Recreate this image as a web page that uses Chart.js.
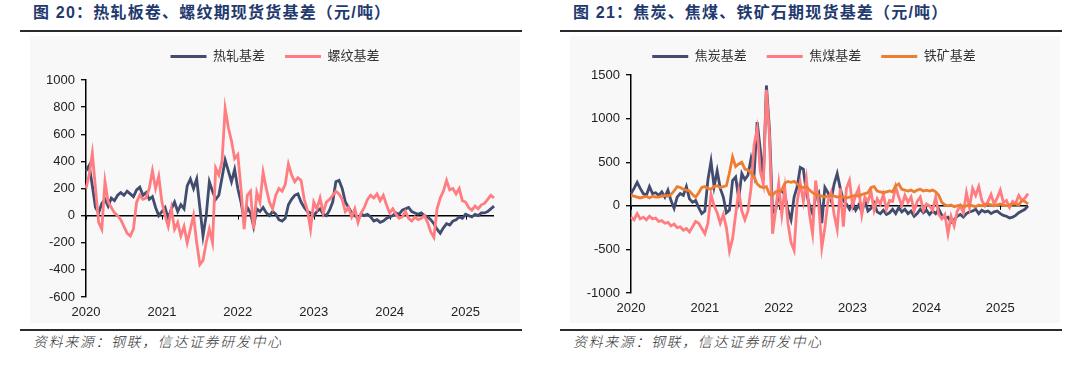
<!DOCTYPE html>
<html>
<head>
<meta charset="utf-8">
<script src="https://cdn.jsdelivr.net/npm/chart.js@4.4.1/dist/chart.umd.min.js"></script>
<style>
  body { margin: 0; width: 1080px; height: 374px; background: #fff; position: relative; overflow: hidden; font-family: 'Liberation Sans', 'Noto Sans CJK SC', sans-serif; }
  .title { position: absolute; top: 3px; line-height: 20px; font-size: 16px; font-weight: bold; color: #1f3a6e; letter-spacing: 1.2px; white-space: nowrap; }
  .rule { position: absolute; height: 2px; background: #2b2b2b; }
  .panel { position: absolute; top: 36px; width: 490px; height: 287px; background: #f8f8f8; }
  .src { position: absolute; top: 332px; line-height: 18px; font-size: 14px; font-style: italic; color: #333; font-family: 'Noto Sans CJK SC', sans-serif; font-weight: 300; letter-spacing: 1.6px; white-space: nowrap; }
  canvas { position: absolute; top: 30px; }
</style>
</head>
<body>
<div class="title" style="left:33px">图 20：热轧板卷、螺纹期现货货基差（元/吨）</div>
<div class="title" style="left:573px">图 21：焦炭、焦煤、铁矿石期现货基差（元/吨）</div>
<div class="rule" style="left:20px; width:502px; top:30px"></div>
<div class="rule" style="left:560px; width:502px; top:30px"></div>
<div class="panel" style="left:30px"></div>
<div class="panel" style="left:570px"></div>
<div class="rule" style="left:20px; width:502px; top:329px"></div>
<div class="rule" style="left:560px; width:502px; top:329px"></div>
<div class="src" style="left:33px">资料来源：钢联，信达证券研发中心</div>
<div class="src" style="left:573px">资料来源：钢联，信达证券研发中心</div>
<canvas id="left" width="500" height="295" style="left:20px"></canvas>
<canvas id="right" width="500" height="295" style="left:560px"></canvas>
<script>
// half-month periods, 2020-01 to 2025-05
const periods = [];
for (let y = 2020; y <= 2025; y++) {
  for (let m = 1; m <= 12; m++) {
    if (y === 2025 && m > 5) break;
    const mm = String(m).padStart(2, '0');
    periods.push(y + '-' + mm + '-1', y + '-' + mm + '-2');
  }
}
const yearTicks = ['2020', '2021', '2022', '2023', '2024', '2025'];

// 热轧基差
const hrcBasis = [330,370,220,60,20,90,120,70,130,110,
  150,170,150,180,160,140,190,210,150,170,
  120,140,60,0,30,60,-20,50,100,30,
  80,50,220,270,200,270,60,-150,0,250,
  180,120,150,280,410,330,250,340,200,100,
  -30,60,20,-80,50,30,60,20,0,30,
  10,-30,-40,-20,80,120,150,160,100,60,
  30,20,0,30,50,10,0,40,100,250,
  260,200,100,60,20,0,-20,10,0,10,
  -10,-40,-30,-50,-40,-20,-10,0,20,10,
  40,50,60,30,20,10,20,0,-10,-30,
  -60,-100,-130,-90,-60,-70,-40,-30,-10,-20,
  10,0,-10,10,0,20,20,30,50,70];
// 螺纹基差
const rebarBasis = [200,300,460,200,-50,-100,250,100,60,20,
  0,-30,-80,-130,-150,-100,100,150,120,130,
  200,330,200,290,100,0,-80,50,-100,-50,
  -150,-80,-200,-100,0,-200,-360,-330,-200,-100,
  -200,350,300,400,790,650,550,420,450,200,
  -100,150,180,-100,170,100,320,200,100,50,
  150,200,180,230,380,300,250,280,260,120,
  40,-100,100,50,130,20,100,120,150,180,
  160,120,30,60,-10,50,-50,20,60,120,
  150,130,160,110,150,80,20,50,10,-20,
  -10,30,-20,-40,-10,-30,-20,0,-50,-120,
  -160,50,130,180,260,190,200,160,200,110,
  100,60,40,70,50,80,90,120,150,130];
// 焦炭基差
const cokeBasis = [140,200,270,200,140,120,220,140,150,120,
  160,100,180,60,-30,100,140,120,220,80,
  40,60,-20,-90,-60,300,510,220,400,200,
  100,-80,-50,290,330,80,370,300,350,540,
  370,960,650,300,1380,870,-80,-50,140,180,
  120,-50,-160,100,220,440,420,150,0,-90,
  100,150,-200,210,150,60,250,370,200,60,
  20,-40,30,-50,10,-70,60,-60,-30,30,
  -70,-90,-50,-100,-80,-40,-90,-20,-70,-40,
  -90,-60,-120,-90,-40,-80,-50,-100,-60,-90,
  -40,-110,-140,-130,-190,-160,-120,-100,-130,-90,
  -70,-60,-40,-90,-50,-70,-60,-90,-70,-60,
  -90,-110,-120,-140,-130,-110,-80,-60,-40,0];
// 焦煤基差
const coalBasis = [-130,-160,-90,-150,-130,-160,-120,-150,-140,-180,
  -170,-200,-190,-230,-210,-250,-240,-280,-260,-300,
  -240,-180,-200,-260,-320,-200,130,0,-80,-200,
  -100,-250,-520,-380,-100,170,-60,-160,-60,200,
  700,880,400,250,1330,800,-320,-50,250,-100,
  200,-200,-420,-510,50,260,50,300,-100,-320,
  290,20,-480,-250,50,150,-100,-270,200,-240,
  200,290,0,120,200,-100,100,50,160,-50,
  80,20,130,-40,60,50,220,100,0,120,
  40,100,-60,50,100,-50,20,0,-50,100,
  -100,-150,-100,-320,-120,-230,-60,0,-80,150,
  -20,200,120,220,60,0,50,130,20,90,
  180,40,60,-20,50,30,120,60,90,140];
// 铁矿基差
const oreBasis = [120,110,100,90,100,110,90,110,100,100,
  110,120,110,130,170,220,210,190,180,170,
  130,100,150,210,220,200,190,220,230,210,
  220,230,380,560,450,480,500,420,410,380,
  330,250,220,210,220,130,120,160,170,180,
  260,280,270,280,250,220,210,220,180,150,
  130,120,110,100,110,120,110,100,110,100,
  90,100,110,120,110,130,140,150,210,220,
  170,160,150,160,170,160,230,250,190,180,
  170,180,160,180,190,170,180,170,180,160,
  120,40,10,0,10,-10,0,10,-10,0,
  10,0,-10,10,0,10,20,10,0,10,
  20,10,0,10,20,20,10,60,50,20];

const NAVY = '#414c6e', PINK = '#ff7c80', ORANGE = '#ed7d31';
const tickFont = { family: "'Liberation Sans', Arial, sans-serif", size: 13 };

// extra space under the legend, and move it sideways to sit over the plot
const legendFix = {
  id: 'legendFix',
  beforeInit(chart, args, opts) {
    if (!chart.legend) return;
    const fit = chart.legend.fit;
    chart.legend.fit = function () {
      fit.call(this);
      this.height += opts.extra || 0;
    };
  },
  afterLayout(chart, args, opts) {
    if (!chart.legend) return;
    chart.legend.left += opts.shift || 0;
    chart.legend.right += opts.shift || 0;
  }
};

// small marks on the zero line at each year
const yearMarks = {
  id: 'yearMarks',
  beforeDatasetsDraw(chart) {
    const { ctx, scales: { x, y } } = chart;
    const y0 = y.getPixelForValue(0);
    ctx.save();
    ctx.strokeStyle = '#000';
    ctx.lineWidth = 1;
    periods.forEach((p, i) => {
      if (p.endsWith('-01-1') && yearTicks.includes(p.slice(0, 4))) {
        const px = Math.round(x.getPixelForValue(i)) + 0.5;
        ctx.beginPath();
        ctx.moveTo(px, y0);
        ctx.lineTo(px, y0 + 4);
        ctx.stroke();
      }
    });
    ctx.restore();
  }
};

function line(label, data, color, order) {
  return { label, data, borderColor: color, backgroundColor: color, borderWidth: 2.8,
    pointRadius: 0, tension: 0, order };
}

function makeChart(id, datasets, yMin, yMax, yStep, pad, axisW, axisH, gap, shift) {
  return new Chart(document.getElementById(id), {
    type: 'line',
    data: { labels: periods, datasets },
    options: {
      responsive: false,
      animation: false,
      layout: { padding: pad },
      plugins: {
        legend: {
          position: 'top',
          labels: {
            usePointStyle: true, pointStyle: 'line', pointStyleWidth: 36,
            padding: 20, color: '#333',
            font: { family: "'Liberation Sans', 'Noto Sans CJK SC', sans-serif", size: 13 },
            sort: (a, b) => a.datasetIndex - b.datasetIndex
          }
        },
        tooltip: { enabled: false },
        legendFix: { extra: gap, shift }
      },
      scales: {
        x: {
          type: 'category',
          grid: { display: false, drawTicks: false },
          border: { display: false },
          ticks: {
            autoSkip: false, maxRotation: 0, padding: 8, color: '#222', font: tickFont,
            callback: (v, i) => {
              const p = periods[i];
              return p.endsWith('-01-1') && yearTicks.includes(p.slice(0, 4)) ? p.slice(0, 4) : null;
            }
          },
          afterFit: (s) => { s.height = axisH; }
        },
        y: {
          min: yMin, max: yMax,
          ticks: { stepSize: yStep, padding: 6, color: '#222', font: tickFont, callback: (v) => String(v) },
          grid: {
            drawTicks: true, tickLength: 5, tickColor: '#000', tickWidth: 1.3,
            color: (c) => c.tick && c.tick.value === 0 ? '#000' : 'rgba(0,0,0,0)',
            lineWidth: 1.4
          },
          border: { display: true, color: '#000', width: 1.5 },
          afterFit: (s) => { s.width = axisW; }
        }
      }
    },
    plugins: [legendFix, yearMarks]
  });
}

makeChart('left', [
  line('热轧基差', hrcBasis, NAVY, 2),
  line('螺纹基差', rebarBasis, PINK, 1)
], -600, 1000, 200, { left: 0, right: 26, top: 0, bottom: 0 }, 66, 28, 7, 18);

makeChart('right', [
  line('焦炭基差', cokeBasis, NAVY, 3),
  line('焦煤基差', coalBasis, PINK, 2),
  line('铁矿基差', oreBasis, ORANGE, 1)
], -1000, 1500, 500, { left: 0, right: 32, top: 0, bottom: 0 }, 71, 32, 2, 20);
</script>
</body>
</html>
